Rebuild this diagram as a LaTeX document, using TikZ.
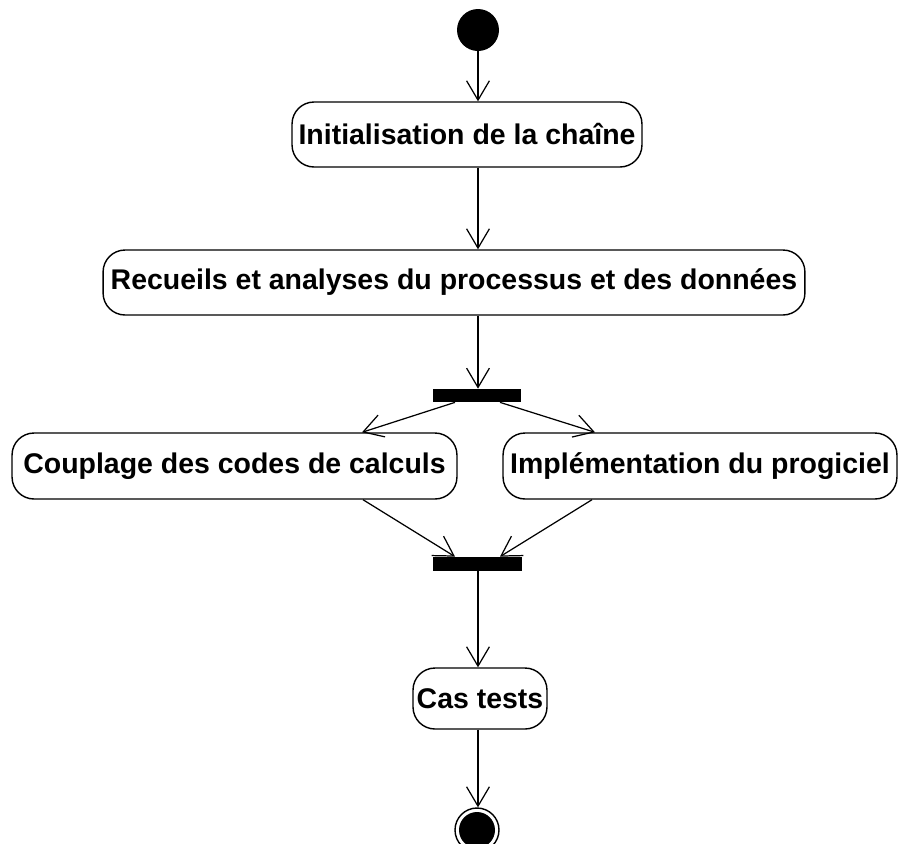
\documentclass[tikz,border=0pt]{standalone}
\usepackage{fontspec}
\setmainfont{Liberation Sans}
\usetikzlibrary{arrows.meta,calc}

\tikzset{
  activity/.style={draw, line width=0.8pt, rounded corners=0.44cm, inner sep=0pt,
    font=\bfseries\fontsize{16.2}{19}\selectfont},
  syncbar/.style={fill=black, inner sep=0pt},
  flow/.style={-{Straight Barb[length=11pt,width=13pt]}, line width=0.7pt},
}

\begin{document}
\begin{tikzpicture}[x=0.02cm, y=-0.02cm]
    \useasboundingbox (0,0) rectangle (899,843);
    \clip (0,0) rectangle (899,843);
    % start and activities
    \node[circle, fill=black, inner sep=0pt, minimum size=0.84cm] (start) at (478,30) {};
    \node[activity, minimum width=7cm, minimum height=1.3cm] (init) at (467,134.5) {Initialisation de la chaîne};
    \node[activity, minimum width=14.04cm, minimum height=1.3cm] (rec) at (454,282.5) {Recueils et analyses du processus et des données};
    \node[syncbar, minimum width=1.76cm, minimum height=0.26cm] (fork) at (477,395.5) {};
    \node[activity, minimum width=8.9cm, minimum height=1.32cm] (coup) at (234.5,466) {Couplage des codes de calculs};
    \node[activity, minimum width=7.88cm, minimum height=1.32cm] (impl) at (700,466) {Implémentation du progiciel};
    \node[syncbar, minimum width=1.78cm, minimum height=0.28cm] (join) at (477.5,564) {};
    \node[activity, minimum width=2.68cm, minimum height=1.22cm] (cas) at (480,698.5) {Cas tests};
    % end state
    \node[circle, draw, fill=white, line width=0.8pt, inner sep=0pt, minimum size=0.88cm] (stop) at (477,830) {};
    \node[circle, fill=black, inner sep=0pt, minimum size=0.72cm] (stopdot) at (stop) {};
    % transitions
    \draw[flow] (start) -- (start |- init.north);
    \draw[flow] (init.south -| start) -- (rec.north -| start);
    \draw[flow] (rec.south -| start) -- (fork.north -| start);
    \draw[flow] ($(fork.south)+(-22,0)$) -- ($(coup.north)+(127.5,0)$);
    \draw[flow] ($(fork.south)+(23,0)$) -- ($(impl.north)+(-105,0)$);
    \draw[flow] ($(coup.south)+(128.5,0)$) -- ($(join.north)+(-22.5,0)$);
    \draw[flow] ($(impl.south)+(-108,0)$) -- ($(join.north)+(22.5,0)$);
    \draw[flow] (join.south -| start) -- (cas.north -| start);
    \draw[flow] (cas.south -| start) -- (stop.north -| start);
\end{tikzpicture}
\end{document}
